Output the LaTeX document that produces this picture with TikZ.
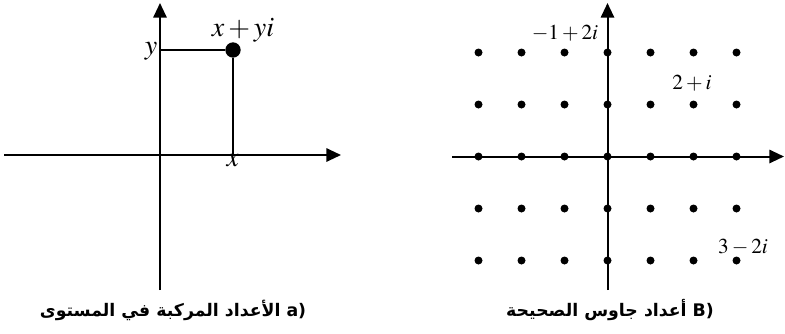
\documentclass[tikz,border=0pt]{standalone}
\usepackage{mathptmx}
\usepackage{fontspec}
\usetikzlibrary{arrows.meta}
\TeXXeTstate=1
\newfontfamily\arabicfont[Script=Arabic]{DejaVu Sans}
\newcommand{\latticedot}[2]{
\fill (607.5+43*#1,156.5+52*#2) circle (4);
}

\begin{document}
\begin{tikzpicture}[x=0.75pt, y=-0.75pt,
    axis/.style={line width=1.5pt, -{Triangle[length=11pt, width=10pt]}},
    bigdot/.style={circle, fill, inner sep=0pt, minimum size=11.5pt},
    mathlbl/.style={font=\fontsize{21}{24}\selectfont, inner sep=0pt},
    gausslbl/.style={font=\fontsize{16}{19}\selectfont, inner sep=0pt},
    caption/.style={font=\arabicfont\bfseries\fontsize{13}{16}\selectfont, inner sep=0pt}]
    \useasboundingbox (0,0) rectangle (785,333);
    % a) the complex plane
    \coordinate (OA) at (160,155);
    \draw[axis] (4,155) -- (341,155);
    \draw[axis] (160,290) -- (160,3);
    \node[bigdot] (P) at (233,50) {};
    \coordinate (Py) at (160,50);
    \coordinate (Px) at (233,155);
    \draw[line width=1.5pt] (Py) -- (P) -- (Px);
    \node[mathlbl] (ylbl) at (151,51) {$y$};
    \node[mathlbl] (xlbl) at (233,161) {$x$};
    \node[mathlbl] (plbl) at (243,30) {$x+yi$};
    \node[caption] (capA) at (173,310) {\beginR\beginL a)\endL{} الأعداد المركبة في المستوى\endR};
    % B) Gaussian integers
    \draw[axis] (452,156.5) -- (784,156.5);
    \draw[axis] (607.5,290) -- (607.5,3);
    \foreach \i in {-3,...,3}
    {
        \foreach \j in {-2,...,2}
        {
            \latticedot{\i}{\j}
        }
    }
    \node[gausslbl] (ga) at (565,33) {$-1+2i$};
    \node[gausslbl] (gb) at (692,83) {$2+i$};
    \node[gausslbl] (gc) at (743,247) {$3-2i$};
    \node[caption] (capB) at (610,310) {\beginR\beginL B)\endL{} أعداد جاوس الصحيحة\endR};
\end{tikzpicture}
\end{document}
